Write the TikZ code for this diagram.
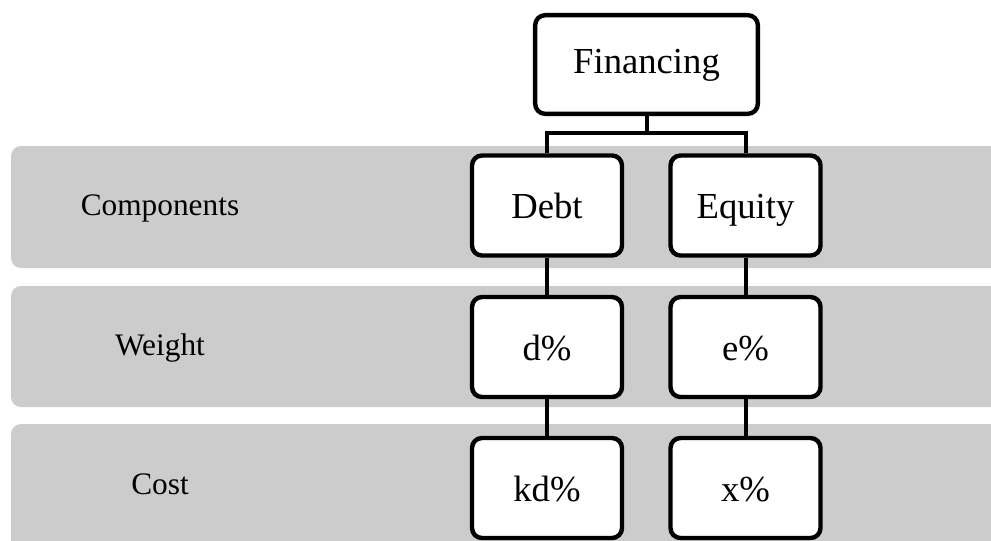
\documentclass[tikz,border=0pt]{standalone}
\usepackage{fontspec}
\setmainfont{Liberation Serif}
\definecolor{bandgray}{gray}{0.8}
\begin{document}
\begin{tikzpicture}[x=0.75pt,y=-0.75pt,box/.style={draw,line width=3.3pt,rounded corners=7.5pt,fill=white,inner sep=0pt,minimum width=112.5pt,minimum height=75pt,text height=24pt,text depth=4.5pt,font=\fontsize{27.5}{32}\selectfont},band/.style={fill=bandgray,rounded corners=7.5pt},link/.style={line width=3pt},rowlabel/.style={text height=20pt,text depth=4pt,font=\fontsize{23.5}{28}\selectfont}]
                \useasboundingbox (0,0) rectangle (991,540);
                \clip (0,0) rectangle (991,540);
                \def\xdebt{547} %cột Debt
                \def\xequity{745.5} %cột Equity
                \foreach \mtop/\mbot in {146/268,286/407,424/560} \path[band] (11,\mtop) rectangle (1020,\mbot);
                \node[box,minimum width=167pt,minimum height=74pt,text height=20pt,text depth=5.8pt] (fin) at (646.5,64.5) {Financing};
                \foreach \mname/\mrow/\mdebt/\mequity in {comp/205.5/Debt/Equity,weight/347/d\%/e\%,cost/488/kd\%/x\%}{
                    \node[box] (\mname d) at (\xdebt,\mrow) {\mdebt};
                    \node[box] (\mname e) at (\xequity,\mrow) {\mequity};
                }
                \foreach \mname/\mrow/\mlabel in {lcomp/205.3/Components,lweight/345.3/Weight,lcost/484.3/Cost} \node[rowlabel] (\mname) at (160,\mrow) {\mlabel};
                \draw[link] (fin.south) -- ++(0,17) coordinate (fork);
                \draw[link] (compd.north) |- (fork) -| (compe.north);
                \draw[link] (compd.south) -- (weightd.north) (weightd.south) -- (costd.north);
                \draw[link] (compe.south) -- (weighte.north) (weighte.south) -- (coste.north);
            \end{tikzpicture}
\end{document}
